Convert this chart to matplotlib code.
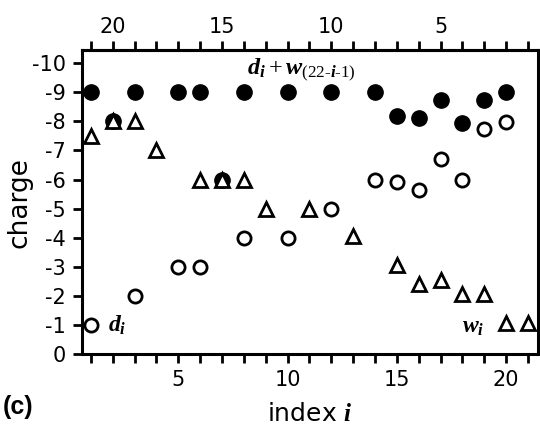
import numpy as np
import matplotlib.pyplot as plt

plt.rcParams['mathtext.fontset'] = 'custom'
plt.rcParams['mathtext.it'] = 'Liberation Serif:italic:bold'
plt.rcParams['mathtext.rm'] = 'Liberation Serif'
plt.rcParams['mathtext.bf'] = 'Liberation Serif:bold'

# d_i + w_(22-i-1) (filled circles)
sum_i = [1, 2, 3, 5, 6, 7, 8, 10, 12, 14, 15, 16, 17, 18, 19, 20]
sum_v = [-9, -8, -9, -9, -9, -6, -9, -9, -9, -9, -8.2, -8.1, -8.75, -7.95, -8.75, -9]

# d_i (open circles)
d_i = [1, 3, 5, 6, 8, 10, 12, 14, 15, 16, 17, 18, 19, 20]
d_v = [-1, -2, -3, -3, -4, -4, -5, -6, -5.92, -5.64, -6.72, -5.98, -7.75, -7.98]

# w_i (triangles)
w_i = [1, 2, 3, 4, 6, 7, 8, 9, 11, 13, 15, 16, 17, 18, 19, 20, 21]
w_v = [-7.5, -8, -8, -7, -6, -6, -6, -5, -5, -4.05, -3.05, -2.4, -2.55, -2.05, -2.05, -1.05, -1.05]

fig = plt.figure(figsize=(5.4, 4.25), dpi=100)
ax = fig.add_axes([0.151, 0.167, 0.845, 0.715])

ax.plot(sum_i, sum_v, 'o', color='black', ms=11, zorder=3)
ax.plot(d_i, d_v, 'o', mfc='white', mec='black', mew=2, ms=9.5, zorder=3)
ax.plot(w_i, w_v, '^', mfc='white', mec='black', mew=2, ms=9.5, zorder=4)

ax.set_xlim(0.57, 21.45)
ax.set_ylim(0, -10.45)

ax.set_xticks(range(1, 22))
ax.set_xticklabels([str(k) if k % 5 == 0 else '' for k in range(1, 22)])
ax.set_yticks(range(0, -11, -1))
ax.set_yticklabels(['0'] + ['-%d' % k for k in range(1, 11)])

for s in ax.spines.values():
    s.set_linewidth(2.2)
ax.tick_params(direction='out', length=6.5, width=2, labelsize=15)
ax.tick_params(axis='x', pad=5)
ax.tick_params(axis='y', pad=5)

top = ax.secondary_xaxis('top', functions=(lambda x: 22 - x, lambda x: 22 - x))
top.set_xticks(range(1, 22))
top.set_xticklabels([str(k) if k % 5 == 0 else '' for k in range(1, 22)])
top.tick_params(direction='out', length=6.5, width=2, labelsize=15, pad=3)
top.spines['top'].set_linewidth(2.2)

ax.set_ylabel('charge', fontsize=19)
ax.yaxis.set_label_coords(-0.107, 0.5)
ax.set_xlabel('index $i$', fontsize=18)
ax.xaxis.set_label_coords(0.5, -0.158)

ax.text(8.15, -9.75, '$d_i + w_{(22\\text{-}i\\text{-}1)}$', fontsize=17.5, va='center', ha='left')
ax.text(1.8, -1.0, '$d_i$', fontsize=17, va='center', ha='left')
ax.text(19.0, -0.95, '$w_i$', fontsize=17, va='center', ha='right')

fig.text(0.006, 0.025, '(c)', fontsize=18, fontweight='bold', family='Liberation Sans')

fig.savefig('out.png', dpi=100)
